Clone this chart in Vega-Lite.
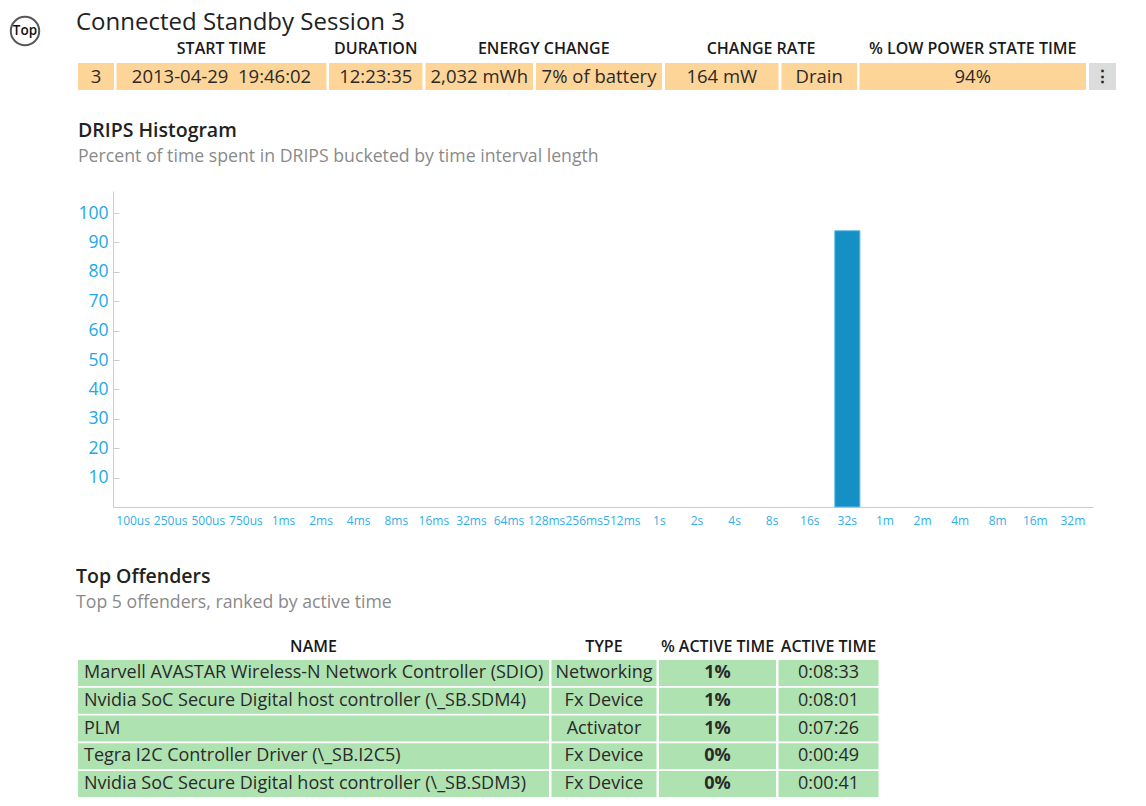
{
  "$schema": "https://vega.github.io/schema/vega-lite/v6.json",
  "background": "white",
  "padding": {"left": 6, "top": 11, "right": 0, "bottom": 0},
  "config": {
    "font": "Open Sans",
    "view": {"stroke": null},
    "title": {"font": "Open Sans", "subtitleFont": "Open Sans"}
  },
  "datasets": {
    "heading": [{"icon": "Top", "heading": "Connected Standby Session 3"}],
    "session": [
      {"id": "3", "start": "2013-04-29\u00a0 19:46:02", "duration": "12:23:35", "energy": "2,032 mWh", "battery": "7% of battery", "rate": "164 mW", "direction": "Drain", "lowpower": "94%", "menu": "\u22ee"}
    ],
    "drips": [
      {"bucket": "100us", "pct": 0}, {"bucket": "250us", "pct": 0}, {"bucket": "500us", "pct": 0}, {"bucket": "750us", "pct": 0},
      {"bucket": "1ms", "pct": 0}, {"bucket": "2ms", "pct": 0}, {"bucket": "4ms", "pct": 0}, {"bucket": "8ms", "pct": 0},
      {"bucket": "16ms", "pct": 0}, {"bucket": "32ms", "pct": 0}, {"bucket": "64ms", "pct": 0}, {"bucket": "128ms", "pct": 0},
      {"bucket": "256ms", "pct": 0}, {"bucket": "512ms", "pct": 0}, {"bucket": "1s", "pct": 0}, {"bucket": "2s", "pct": 0},
      {"bucket": "4s", "pct": 0}, {"bucket": "8s", "pct": 0}, {"bucket": "16s", "pct": 0}, {"bucket": "32s", "pct": 94},
      {"bucket": "1m", "pct": 0}, {"bucket": "2m", "pct": 0}, {"bucket": "4m", "pct": 0}, {"bucket": "8m", "pct": 0},
      {"bucket": "16m", "pct": 0}, {"bucket": "32m", "pct": 0}
    ],
    "offenders": [
      {"rank": 1, "name": "Marvell AVASTAR Wireless-N Network Controller (SDIO)", "type": "Networking", "pct": "1%", "time": "0:08:33"},
      {"rank": 2, "name": "Nvidia SoC Secure Digital host controller (\\_SB.SDM4)", "type": "Fx Device", "pct": "1%", "time": "0:08:01"},
      {"rank": 3, "name": "PLM", "type": "Activator", "pct": "1%", "time": "0:07:26"},
      {"rank": 4, "name": "Tegra I2C Controller Driver (\\_SB.I2C5)", "type": "Fx Device", "pct": "0%", "time": "0:00:49"},
      {"rank": 5, "name": "Nvidia SoC Secure Digital host controller (\\_SB.SDM3)", "type": "Fx Device", "pct": "0%", "time": "0:00:41"}
    ]
  },
  "spacing": 32,
  "hconcat": [
    {
      "width": 28, "height": 40,
      "data": {"name": "heading"},
      "layer": [
        {"mark": {"type": "point", "shape": "circle", "size": 810, "filled": true, "fill": "white", "stroke": "#111111", "strokeWidth": 2}, "encoding": {}},
        {"mark": {"type": "text", "fontSize": 13.5, "fontWeight": 600, "color": "#111111"}, "encoding": {"text": {"field": "icon"}}}
      ]
    },
    {
      "spacing": 0,
      "vconcat": [
        {
          "width": 500, "height": 24,
          "data": {"name": "heading"},
          "mark": {"type": "text", "align": "left", "baseline": "middle", "fontSize": 24, "color": "#222222"},
          "encoding": {
            "x": {"datum": 0, "type": "quantitative", "scale": {"domain": [0, 1]}, "axis": null},
            "text": {"field": "heading"}
          }
        },
        {"width": 1, "height": 6, "data": {"values": []}, "mark": "point"},
        {
          "spacing": 1,
          "hconcat": [
            {"width": 1, "height": 1, "data": {"values": []}, "mark": "point"},
            {
              "spacing": 2.5,
              "hconcat": [
                {"width": 36, "height": 27, "data": {"name": "session"}, "layer": [
                  {"mark": {"type": "rect", "color": "#fdd598"}, "encoding": {}},
                  {"mark": {"type": "text", "fontSize": 18.5, "color": "#2a2a2a"}, "encoding": {"text": {"field": "id"}}}
                ]},
                {"width": 210, "height": 27, "data": {"name": "session"}, "title": {"text": "START TIME", "fontSize": 16, "fontWeight": 600, "color": "#1a1a1a", "offset": 6}, "layer": [
                  {"mark": {"type": "rect", "color": "#fdd598"}, "encoding": {}},
                  {"mark": {"type": "text", "fontSize": 18.5, "color": "#2a2a2a"}, "encoding": {"text": {"field": "start"}}}
                ]},
                {"width": 93.5, "height": 27, "data": {"name": "session"}, "title": {"text": "DURATION", "fontSize": 16, "fontWeight": 600, "color": "#1a1a1a", "offset": 6}, "layer": [
                  {"mark": {"type": "rect", "color": "#fdd598"}, "encoding": {}},
                  {"mark": {"type": "text", "fontSize": 18.5, "color": "#2a2a2a"}, "encoding": {"text": {"field": "duration"}}}
                ]},
                {
                  "title": {"text": "ENERGY CHANGE", "anchor": "middle", "fontSize": 16, "fontWeight": 600, "color": "#1a1a1a", "offset": 6},
                  "spacing": 2.5,
                  "hconcat": [
                    {"width": 107.5, "height": 27, "data": {"name": "session"}, "layer": [
                      {"mark": {"type": "rect", "color": "#fdd598"}, "encoding": {}},
                      {"mark": {"type": "text", "fontSize": 18.5, "color": "#2a2a2a"}, "encoding": {"text": {"field": "energy"}}}
                    ]},
                    {"width": 126, "height": 27, "data": {"name": "session"}, "layer": [
                      {"mark": {"type": "rect", "color": "#fdd598"}, "encoding": {}},
                      {"mark": {"type": "text", "fontSize": 18.5, "color": "#2a2a2a"}, "encoding": {"text": {"field": "battery"}}}
                    ]}
                  ]
                },
                {
                  "title": {"text": "CHANGE RATE", "anchor": "middle", "fontSize": 16, "fontWeight": 600, "color": "#1a1a1a", "offset": 6},
                  "spacing": 2.5,
                  "hconcat": [
                    {"width": 113.5, "height": 27, "data": {"name": "session"}, "layer": [
                      {"mark": {"type": "rect", "color": "#fdd598"}, "encoding": {}},
                      {"mark": {"type": "text", "fontSize": 18.5, "color": "#2a2a2a"}, "encoding": {"text": {"field": "rate"}}}
                    ]},
                    {"width": 75.5, "height": 27, "data": {"name": "session"}, "layer": [
                      {"mark": {"type": "rect", "color": "#fdd598"}, "encoding": {}},
                      {"mark": {"type": "text", "fontSize": 18.5, "color": "#2a2a2a"}, "encoding": {"text": {"field": "direction"}}}
                    ]}
                  ]
                },
                {"width": 226.5, "height": 27, "data": {"name": "session"}, "title": {"text": "% LOW POWER STATE TIME", "fontSize": 16, "fontWeight": 600, "color": "#1a1a1a", "offset": 6}, "layer": [
                  {"mark": {"type": "rect", "color": "#fdd598"}, "encoding": {}},
                  {"mark": {"type": "text", "fontSize": 18.5, "color": "#2a2a2a"}, "encoding": {"text": {"field": "lowpower"}}}
                ]},
                {"width": 27, "height": 27, "data": {"name": "session"}, "layer": [
                  {"mark": {"type": "rect", "color": "#dcdcdc"}, "encoding": {}},
                  {"mark": {"type": "text", "fontSize": 17, "fontWeight": "bold", "color": "#222222"}, "encoding": {"text": {"field": "menu"}}}
                ]}
              ]
            }
          ]
        },
        {"width": 1, "height": 30, "data": {"values": []}, "mark": "point"},
        {
          "spacing": 0,
          "hconcat": [
            {"width": 1, "height": 1, "data": {"values": []}, "mark": "point"},
            {
              "width": 980, "height": 316,
              "data": {"name": "drips"},
              "title": {"text": "DRIPS Histogram", "subtitle": "Percent of time spent in DRIPS bucketed by time interval length", "anchor": "start", "fontSize": 19.5, "fontWeight": 600, "color": "#222222", "subtitleFontSize": 17.7, "subtitleColor": "#8a8a8a", "subtitlePadding": 7, "offset": 24},
              "mark": {"type": "bar", "color": "#1590c5", "stroke": "#6cc0e6"},
              "encoding": {
                "x": {"field": "bucket", "type": "nominal", "sort": null, "scale": {"paddingInner": 0.33, "paddingOuter": 0.2, "round": false},
                  "axis": {"title": null, "labelAngle": 0, "labelColor": "#33aee8", "labelFontSize": 12, "ticks": false, "labelPadding": 8, "domainColor": "#cccccc", "labelOverlap": false, "labelBound": false}},
                "y": {"field": "pct", "type": "quantitative", "scale": {"domain": [0, 107.5]},
                  "axis": {"title": null, "values": [10, 20, 30, 40, 50, 60, 70, 80, 90, 100], "grid": false, "labelColor": "#22a8e8", "labelFontSize": 17.5, "tickSize": -6, "tickColor": "#cccccc", "domainColor": "#cccccc", "labelPadding": 11}},
                "strokeWidth": {"condition": {"test": "datum.pct > 0", "value": 1}, "value": 0}
              }
            }
          ]
        },
        {"width": 1, "height": 40, "data": {"values": []}, "mark": "point"},
        {
          "title": {"text": "Top Offenders", "subtitle": "Top 5 offenders, ranked by active time", "anchor": "start", "fontSize": 19.5, "fontWeight": 600, "color": "#222222", "subtitleFontSize": 17.7, "subtitleColor": "#8a8a8a", "subtitlePadding": 7, "offset": 26},
          "spacing": 1,
          "hconcat": [
            {"width": 1, "height": 1, "data": {"values": []}, "mark": "point"},
            {
              "spacing": 2.5,
              "hconcat": [
                {"width": 471, "height": 137, "data": {"name": "offenders"}, "title": {"text": "NAME", "fontSize": 16, "fontWeight": 600, "color": "#1a1a1a", "offset": 5}, "layer": [
                  {"mark": {"type": "rect", "color": "#aee2b0"}, "encoding": {"y": {"field": "rank", "type": "ordinal", "axis": null, "scale": {"paddingInner": 0.06, "paddingOuter": 0}}}},
                  {"mark": {"type": "text", "align": "left", "dx": 6, "fontSize": 18, "color": "#2a2a2a"}, "encoding": {
                    "x": {"datum": 0, "type": "quantitative", "scale": {"domain": [0, 1]}, "axis": null},
                    "y": {"field": "rank", "type": "ordinal", "axis": null}, "text": {"field": "name"}}}
                ]},
                {"width": 105, "height": 137, "data": {"name": "offenders"}, "title": {"text": "TYPE", "fontSize": 16, "fontWeight": 600, "color": "#1a1a1a", "offset": 5}, "layer": [
                  {"mark": {"type": "rect", "color": "#aee2b0"}, "encoding": {"y": {"field": "rank", "type": "ordinal", "axis": null, "scale": {"paddingInner": 0.06, "paddingOuter": 0}}}},
                  {"mark": {"type": "text", "fontSize": 18, "color": "#2a2a2a"}, "encoding": {"y": {"field": "rank", "type": "ordinal", "axis": null}, "text": {"field": "type"}}}
                ]},
                {"width": 117, "height": 137, "data": {"name": "offenders"}, "title": {"text": "% ACTIVE TIME", "fontSize": 16, "fontWeight": 600, "color": "#1a1a1a", "offset": 5}, "layer": [
                  {"mark": {"type": "rect", "color": "#aee2b0"}, "encoding": {"y": {"field": "rank", "type": "ordinal", "axis": null, "scale": {"paddingInner": 0.06, "paddingOuter": 0}}}},
                  {"mark": {"type": "text", "fontSize": 18, "fontWeight": "bold", "color": "#2a2a2a"}, "encoding": {"y": {"field": "rank", "type": "ordinal", "axis": null}, "text": {"field": "pct"}}}
                ]},
                {"width": 100, "height": 137, "data": {"name": "offenders"}, "title": {"text": "ACTIVE TIME", "fontSize": 16, "fontWeight": 600, "color": "#1a1a1a", "offset": 5}, "layer": [
                  {"mark": {"type": "rect", "color": "#aee2b0"}, "encoding": {"y": {"field": "rank", "type": "ordinal", "axis": null, "scale": {"paddingInner": 0.06, "paddingOuter": 0}}}},
                  {"mark": {"type": "text", "fontSize": 18, "color": "#2a2a2a"}, "encoding": {"y": {"field": "rank", "type": "ordinal", "axis": null}, "text": {"field": "time"}}}
                ]}
              ]
            }
          ]
        }
      ]
    }
  ]
}
